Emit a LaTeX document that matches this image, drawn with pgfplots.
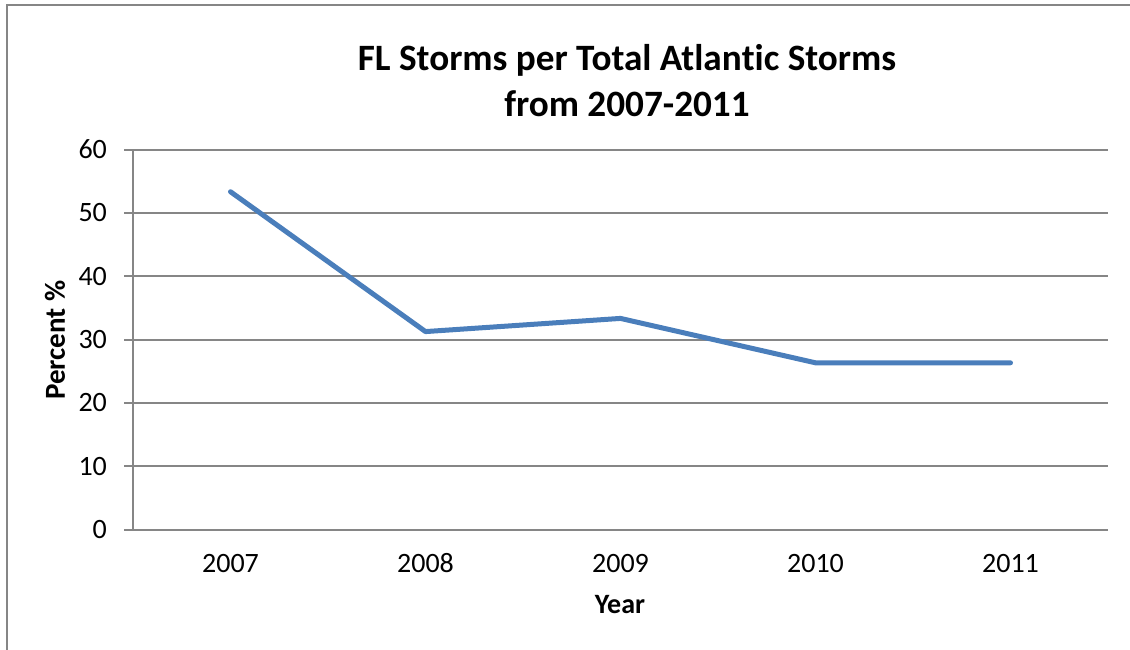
\documentclass[border=0pt]{standalone}
\usepackage{pgfplots}
\pgfplotsset{compat=1.18}
\usepackage{fontspec}
\setmainfont{Carlito}[Ligatures=NoCommon]
\definecolor{lineblue}{HTML}{4A7EBB}
\definecolor{gridgray}{HTML}{868686}
\begin{document}
\begin{tikzpicture}
\path[use as bounding box] (-66.5pt,-59.75pt) rectangle (498.5pt,264.75pt);
\draw[gridgray, line width=1pt] (-63pt,-62pt) -- (-63pt,262.25pt) -- (502pt,262.25pt);
\begin{axis}[
  at={(0,0)}, anchor=south west,
  scale only axis, width=487.5pt, height=190pt,
  xmin=-0.5, xmax=4.5, ymin=0, ymax=60,
  axis x line=bottom, axis y line=left,
  axis line style={gridgray, line width=1pt, -},
  xtick={0,1,2,3,4},
  xticklabels={2007,2008,2009,2010,2011},
  xtick style={draw=none},
  minor xtick={-0.5,0.5,1.5,2.5,3.5,4.5},
  minor tick length=4.5pt,
  major tick length=4.5pt,
  tick align=outside,
  minor x tick style={gridgray, line width=1pt},
  ytick={0,10,...,60},
  ytick style={gridgray, line width=1pt},
  ymajorgrids,
  major grid style={gridgray, line width=1pt},
  tick label style={font=\fontsize{14}{16}\selectfont, black},
  xticklabel style={text height=9.5pt, text depth=0pt, yshift=-4pt},
  yticklabel style={xshift=-5pt},
  /pgf/number format/assume math mode=true,
  clip=false,
]
\addplot[lineblue, line width=2.5pt, line cap=round, line join=round] coordinates {
 (0,53.33) (1,31.25) (2,33.33) (3,26.32) (4,26.32)
};
\end{axis}
\node[font=\fontsize{18.6}{22}\selectfont\bfseries, anchor=base] at (247pt,229.25pt) {FL Storms per Total Atlan\kern0pt{}tic Storms};
\node[font=\fontsize{18.6}{22}\selectfont\bfseries, anchor=base] at (247pt,206.5pt) {from 2007-2011};
\node[font=\fontsize{14.5}{16}\selectfont\bfseries, rotate=90] at (-39pt,94.75pt) {Percent \%};
\node[font=\fontsize{14}{16}\selectfont\bfseries] at (243.5pt,-37.75pt) {Year};
\end{tikzpicture}
\end{document}
